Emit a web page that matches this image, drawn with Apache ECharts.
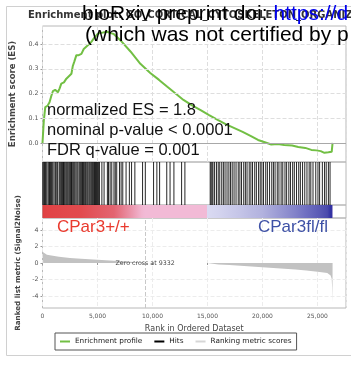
<!DOCTYPE html>
<html>
<head>
<meta charset="utf-8">
<script src="https://cdn.jsdelivr.net/npm/echarts@6/dist/echarts.min.js"></script>
<style>
  html, body { margin: 0; padding: 0; background: #fff; }
  #chart { width: 351px; height: 366px; }
</style>
</head>
<body>
<div id="chart"></div>
<script>
// running enrichment score, [rank, ES]
const esCurve = [
  [0, 0], [120, 0.09], [250, 0.145], [450, 0.15], [640, 0.165], [800, 0.19], [950, 0.21],
  [1150, 0.215], [1400, 0.205], [1550, 0.22], [1710, 0.24], [1950, 0.245], [2170, 0.26],
  [2400, 0.27], [2630, 0.28], [2750, 0.31], [2900, 0.33], [3080, 0.355], [3300, 0.355],
  [3540, 0.36], [3750, 0.38], [4000, 0.39], [4250, 0.4], [4460, 0.41], [4700, 0.425],
  [5000, 0.44], [5220, 0.445], [5500, 0.447], [5860, 0.45], [6500, 0.44], [7200, 0.41],
  [8000, 0.37], [8900, 0.32], [9800, 0.283], [10600, 0.255], [11350, 0.227], [12100, 0.2],
  [12820, 0.174], [13600, 0.152], [14380, 0.133], [15150, 0.113], [15930, 0.093],
  [16700, 0.075], [17400, 0.061], [18200, 0.045], [18960, 0.028], [19600, 0.012],
  [20150, 0.004], [20800, -0.006], [21400, -0.004], [21980, -0.008], [22700, -0.01],
  [23260, -0.016], [23900, -0.02], [24450, -0.028], [24900, -0.03], [25300, -0.033],
  [25640, -0.04], [26000, -0.038], [26300, -0.036], [26380, 0]
];

// positions of gene set members in the ranked list
const hitRanks = [
  30, 110, 190, 260, 330, 420, 560, 640, 720, 800, 870, 950, 1060, 1190, 1300, 1380, 1520,
  1600, 1680, 1750, 1830, 1910, 1980, 2060, 2150, 2230, 2310, 2400, 2480, 2560, 2640, 2700,
  2790, 2870, 2950, 3050, 3150, 3240, 3380, 3470, 3560, 3640, 3720, 3800, 3890, 3960, 4050,
  4130, 4230, 4310, 4400, 4480, 4560, 4650, 4730, 4820, 4910, 5000, 5100, 5180,
  5400, 5600, 5900, 6000, 6150, 6300, 6500, 6620, 6750, 7000, 7150, 7300, 7600, 7900, 8100,
  8400, 9100, 9350, 10100, 10400, 10650, 11300, 11600, 11950, 12650, 12950,
  15250, 15330, 15420, 15500, 15650, 15820, 15980, 16120, 16300, 16450, 16600, 16780, 16950,
  17100, 17250, 17420, 17600, 17800, 17950, 18100, 18300, 18450, 18600, 18800, 18950, 19100,
  19300, 19450, 19650, 19800, 19950, 20100, 20300, 20450, 20650, 20850, 21000, 21150, 21350,
  21500, 21700, 21850, 22050, 22200, 22400, 22550, 22750, 22900, 23100, 23300, 23450, 23650,
  23850, 24050, 24250, 24400, 24600, 24850, 25050, 25200, 25450, 25650, 25800, 26000, 26150
];

// ranked list metric (Signal2Noise), [rank, value]
const rankedMetric = [
  [0, 1.6], [60, 1.3], [150, 1.1], [400, 1.0], [800, 0.9], [1500, 0.75], [2500, 0.6],
  [3500, 0.5], [5000, 0.38], [6500, 0.27], [8000, 0.16], [9000, 0.06], [9332, 0],
  [14990, 0], [15000, -0.12], [16000, -0.18], [17000, -0.25], [18000, -0.33], [19000, -0.42],
  [20000, -0.5], [21000, -0.6], [22000, -0.7], [23000, -0.8], [24000, -0.92], [24600, -1.0],
  [25200, -1.08], [25900, -1.2], [26200, -1.5], [26300, -1.9], [26340, -3.0], [26370, -4.85],
  [26380, 0]
];

const zeroCross = 9332;
const rankMax = 27600;
const esTicks = [0, 0.1, 0.2, 0.3, 0.4];
const metricTicks = [-4, -2, 0, 2, 4];
const statLines = ['normalized ES = 1.8', 'nominal p-value < 0.0001', 'FDR q-value = 0.001'];
const phenotypes = ['CPar3+/+', 'CPar3fl/fl'];
const plotTitle = 'Enrichment plot: GO_CORTICAL_CYTOSKELETON_ORGANIZATION';
const watermark = ['bioRxiv preprint doi: ', 'https://d', '(which was not certified by p'];

// metric value -> colour of the ranked list bar
const metricColorStops = [
  [-1.5, '#3232a2'], [-1.2, '#4a4aac'], [-0.9, '#7272c2'], [-0.5, '#b2b2de'],
  [-0.12, '#dadaf2'], [-0.01, '#e8dcf0'], [0, '#f2bad6'], [0.13, '#efb0ca'],
  [0.2, '#e36c7c'], [0.5, '#e24a4e'], [1.6, '#df3a3a']
];

function colorFor(v) {
  const s = metricColorStops;
  if (v <= s[0][0]) return s[0][1];
  if (v >= s[s.length - 1][0]) return s[s.length - 1][1];
  for (let i = 0; i < s.length - 1; i++) {
    if (v >= s[i][0] && v <= s[i + 1][0]) {
      const t = (v - s[i][0]) / (s[i + 1][0] - s[i][0]);
      return echarts.color.lerp(t, [s[i][1], s[i + 1][1]]);
    }
  }
  return s[0][1];
}

const FONT = 'DejaVu Sans';
const lastRank = rankedMetric[rankedMetric.length - 1][0];

const chart = echarts.init(document.getElementById('chart'), null, { renderer: 'canvas' });

const hiddenX = (gi) => ({
  type: 'value', gridIndex: gi, min: 0, max: rankMax, interval: 5000,
  axisLabel: { show: false }, axisTick: { show: false }, axisLine: { show: false },
  splitLine: { show: false }
});

const option = {
  backgroundColor: '#fff',
  animation: false,
  grid: [
    { left: 42.5, right: 5, top: 26, height: 136, show: true, borderColor: '#b8b8b8', backgroundColor: 'transparent' },
    { left: 42.5, right: 5, top: 162, height: 43, show: true, borderColor: '#b8b8b8', backgroundColor: 'transparent' },
    { left: 42.5, right: 5, top: 205, height: 13, show: true, borderColor: '#b8b8b8', backgroundColor: 'transparent' },
    { left: 42.5, right: 5, top: 218, height: 90, show: true, borderColor: '#b8b8b8', backgroundColor: 'transparent' }
  ],
  xAxis: [
    Object.assign(hiddenX(0), { splitLine: { show: true, lineStyle: { type: 'dashed', color: '#dedede' } } }),
    hiddenX(1),
    hiddenX(2),
    {
      type: 'value', gridIndex: 3, min: 0, max: rankMax, interval: 5000,
      axisLine: { show: false },
      axisTick: { show: true, length: 2, lineStyle: { color: '#999' } },
      axisLabel: {
        showMaxLabel: false, fontFamily: FONT, fontSize: 6, color: '#555', margin: 5,
        formatter: (v) => v.toLocaleString('en-US')
      },
      splitLine: { show: true, lineStyle: { type: 'dashed', color: '#ececec' } },
      name: 'Rank in Ordered Dataset', nameLocation: 'middle', nameGap: 17,
      nameTextStyle: { fontFamily: FONT, fontSize: 8, color: '#444' }
    }
  ],
  yAxis: [
    {
      type: 'value', gridIndex: 0, min: -0.077, max: 0.473,
      axisLine: { show: false },
      axisTick: { show: true, length: 2, customValues: esTicks, lineStyle: { color: '#999' } },
      axisLabel: {
        customValues: esTicks, fontFamily: FONT, fontSize: 6.3, color: '#555', margin: 4,
        formatter: (v) => v.toFixed(1)
      },
      splitLine: { show: false },
      name: 'Enrichment score (ES)', nameLocation: 'middle', nameGap: 20,
      nameTextStyle: { fontFamily: FONT, fontSize: 8.5, fontWeight: 'bold', color: '#444' }
    },
    { type: 'value', gridIndex: 1, min: 0, max: 1, show: false },
    { type: 'value', gridIndex: 2, min: 0, max: 1, show: false },
    {
      type: 'value', gridIndex: 3, min: -5.45, max: 5.45,
      axisLine: { show: false },
      axisTick: { show: true, length: 2, customValues: metricTicks, lineStyle: { color: '#999' } },
      axisLabel: { customValues: metricTicks, fontFamily: FONT, fontSize: 6.3, color: '#555', margin: 4 },
      splitLine: { show: false },
      name: 'Ranked list metric (Signal2Noise)', nameLocation: 'middle', nameGap: 21,
      nameTextStyle: { fontFamily: FONT, fontSize: 7.2, fontWeight: 'bold', color: '#444' }
    }
  ],
  legend: {
    left: 55, top: 333, orient: 'horizontal',
    icon: 'rect', itemWidth: 10, itemHeight: 2, itemGap: 12,
    padding: [5, 5], borderColor: '#555', borderWidth: 1,
    selectedMode: false,
    textStyle: { fontFamily: FONT, fontSize: 7.3, color: '#222' },
    data: ['Enrichment profile', 'Hits', 'Ranking metric scores']
  },
  series: [
    {
      name: 'Enrichment profile', type: 'line', xAxisIndex: 0, yAxisIndex: 0,
      data: esCurve, showSymbol: false, color: '#72bf44',
      lineStyle: { color: '#72bf44', width: 2 },
      z: 3,
      markLine: {
        silent: true, symbol: 'none', label: { show: false },
        data: esTicks.map((v) => ({
          yAxis: v,
          lineStyle: v === 0 ? { type: 'solid', color: '#a8a8a8', width: 1 } : { type: 'dashed', color: '#dedede', width: 1 }
        }))
      }
    },
    {
      name: 'Hits', type: 'custom', xAxisIndex: 1, yAxisIndex: 1,
      data: hitRanks.map((r) => [r, 0]), encode: { x: 0, y: 1 },
      color: '#000', itemStyle: { color: '#000' },
      renderItem: (params, api) => {
        const top = api.coord([api.value(0), 1]);
        const bot = api.coord([api.value(0), 0]);
        return {
          type: 'line',
          shape: { x1: top[0], y1: top[1], x2: bot[0], y2: bot[1] },
          style: { stroke: '#000', lineWidth: 1, opacity: 0.85 }
        };
      }
    },
    {
      type: 'custom', xAxisIndex: 2, yAxisIndex: 2, silent: true,
      data: [[0, 0]], encode: { x: 0, y: 1 },
      renderItem: (params, api) => {
        const p0 = api.coord([0, 1]);
        const p1 = api.coord([lastRank, 0]);
        const stops = rankedMetric.map(([r, v]) => ({ offset: r / lastRank, color: colorFor(v) }));
        return {
          type: 'rect',
          shape: { x: p0[0], y: p0[1], width: p1[0] - p0[0], height: p1[1] - p0[1] },
          style: { fill: new echarts.graphic.LinearGradient(0, 0, 1, 0, stops) }
        };
      }
    },
    {
      name: 'Ranking metric scores', type: 'line', xAxisIndex: 3, yAxisIndex: 3,
      data: rankedMetric, showSymbol: false, color: '#d6d6d6',
      lineStyle: { width: 0 },
      areaStyle: { color: '#c2c2c2', opacity: 1 },
      markLine: {
        silent: true, symbol: 'none', label: { show: false },
        data: [
          { xAxis: zeroCross, lineStyle: { type: 'dashed', color: '#c8c8c8', width: 1 } },
          ...metricTicks.filter((v) => v !== 0).map((v) => ({ yAxis: v, lineStyle: { type: 'dashed', color: '#ececec', width: 1 } }))
        ]
      },
      markPoint: {
        silent: true, symbol: 'circle', symbolSize: 0,
        label: {
          show: true, position: 'inside', fontFamily: FONT, fontSize: 6.3, color: '#444',
          formatter: 'Zero cross at ' + zeroCross
        },
        data: [{ coord: [zeroCross, 0] }]
      }
    }
  ],
  graphic: [
    {
      type: 'rect', left: 4, top: 4, z: -10, silent: true,
      shape: { width: 345, height: 349 },
      style: { fill: 'none', stroke: '#d0d0d0', lineWidth: 1 }
    },
    {
      type: 'text', left: 28, top: 10, z: 50, silent: true,
      style: { text: plotTitle, fontFamily: FONT, fontSize: 10, fontWeight: 'bold', fill: '#333' }
    },
    ...statLines.map((t, i) => ({
      type: 'text', left: 47, top: 102 + i * 20, z: 60, silent: true,
      style: { text: t, fontFamily: 'Liberation Sans', fontSize: 16.5, fill: '#111' }
    })),
    {
      type: 'text', left: 57, top: 219, z: 60, silent: true,
      style: { text: phenotypes[0], fontFamily: 'Liberation Sans', fontSize: 17, fill: '#ea3a2e' }
    },
    {
      type: 'text', left: 258, top: 219, z: 60, silent: true,
      style: { text: phenotypes[1], fontFamily: 'Liberation Sans', fontSize: 17, fill: '#3e51a6' }
    },
    {
      type: 'text', left: 82, top: 4, z: 100, silent: true,
      style: {
        text: '{a|' + watermark[0] + '}{b|' + watermark[1] + '}',
        rich: {
          a: { fontFamily: 'Liberation Sans', fontSize: 21, fill: '#000' },
          b: { fontFamily: 'Liberation Sans', fontSize: 21, fill: '#0000ee' }
        }
      }
    },
    {
      type: 'text', left: 85, top: 25, z: 100, silent: true,
      style: { text: watermark[2], fontFamily: 'Liberation Sans', fontSize: 21, fill: '#000' }
    }
  ]
};

chart.setOption(option);
</script>
</body>
</html>
